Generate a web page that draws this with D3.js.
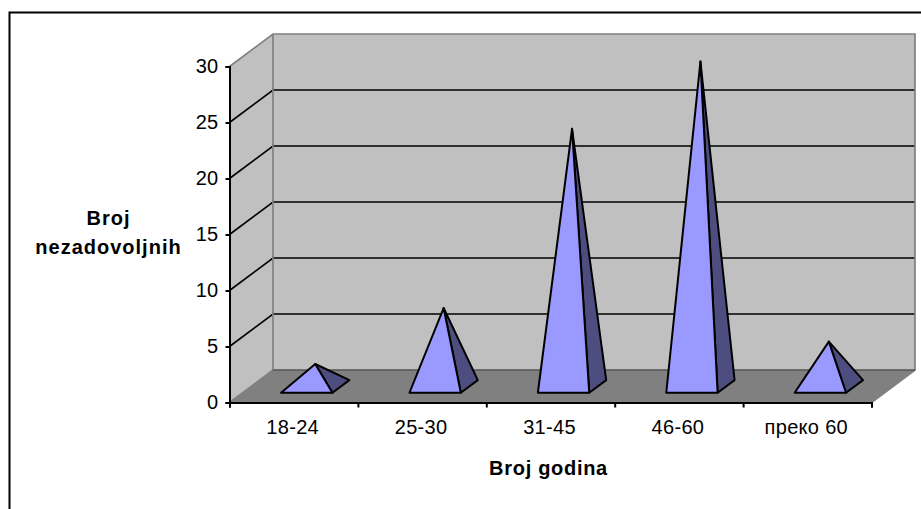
<!DOCTYPE html>
<html>
<head>
<meta charset="utf-8">
<script src="https://cdn.jsdelivr.net/npm/d3@7"></script>
<style>
  html, body { margin: 0; padding: 0; background: #fff; }
  svg { display: block; }
  text { font-family: "Liberation Sans", Arial, sans-serif; fill: #000; }
</style>
</head>
<body>
<svg id="chart" width="921" height="509"></svg>
<script>
// values
const categories = ["18-24", "25-30", "31-45", "46-60", "преко 60"]
const values = [2, 7, 23, 29, 4]
const yTicks = [0, 5, 10, 15, 20, 25, 30]
const xTitle = "Broj godina"
const yTitle = ["Broj", "nezadovoljnih"]

let svg = d3.select("#chart")

let x = d3.scaleBand().domain(categories).range([229.5, 871.5])
let y = d3.scaleLinear().domain([0, 30]).range([402.5, 66.5])

// 3d offset of the back wall
let depthX = 43.5
let depthY = -32.5
let project = (px, py, d) => [px + depthX * d, py + depthY * d]
let path = d3.line().curve(d3.curveLinearClosed)

let frame = svg.append("path")
  .attr("d", "M9.5,509V12.5H921")
  .attr("fill", "none")
  .attr("stroke", "#000")
  .attr("stroke-width", 2)

let x0 = x.range()[0], x1 = x.range()[1]
let y0 = y(0), yTop = y(30)

// side wall
svg.append("path")
  .attr("d", path([[x0, y0], project(x0, y0, 1), project(x0, yTop, 1), [x0, yTop]]))
  .attr("fill", "#c0c0c0")

// back wall
svg.append("path")
  .attr("d", path([project(x0, y0, 1), project(x1, y0, 1), project(x1, yTop, 1), project(x0, yTop, 1)]))
  .attr("fill", "#c0c0c0")

// floor
svg.append("path")
  .attr("d", path([[x0, y0], [x1, y0], project(x1, y0, 1), project(x0, y0, 1)]))
  .attr("fill", "#808080")

// grid lines, they bend at the back corner
svg.append("g").selectAll("path")
  .data(yTicks.filter((d) => d > 0 && d < 30))
  .join("path")
  .attr("d", (d) => d3.line()([[x0, y(d)], project(x0, y(d), 1), project(x1, y(d), 1)]))
  .attr("fill", "none")
  .attr("stroke", "#000")
  .attr("stroke-width", 1.7)

// grey edges of the walls
svg.append("path")
  .attr("d", d3.line()([[x0, yTop], project(x0, yTop, 1), project(x1, yTop, 1), project(x1, y0, 1), [x1, y0]]))
  .attr("fill", "none")
  .attr("stroke", "#808080")
  .attr("stroke-width", 1.7)
svg.append("path")
  .attr("d", d3.line()([project(x0, yTop, 1), project(x0, y0, 1), [x0, y0]]))
  .attr("fill", "none")
  .attr("stroke", "#808080")
  .attr("stroke-width", 1.7)
svg.append("path")
  .attr("d", d3.line()([project(x0, y0, 1), project(x1, y0, 1)]))
  .attr("fill", "none")
  .attr("stroke", "#555")
  .attr("stroke-width", 1.7)

// pyramids
let baseW = x.bandwidth() * 0.4
let depthFront = 0.3
let depthBack = 0.69
let depthMid = (depthFront + depthBack) / 2

let pyramids = svg.append("g").selectAll("g")
  .data(categories.map((c, i) => ({ cat: c, val: values[i] })))
  .join("g")
  .attr("stroke", "#000")
  .attr("stroke-width", 2)
  .attr("stroke-linejoin", "round")

pyramids.append("path")
  .attr("fill", "#4d4d80")
  .attr("d", (d) => {
    let r = x(d.cat) + x.bandwidth() / 2 + baseW / 2
    let m = x(d.cat) + x.bandwidth() / 2
    return path([project(r, y0, depthFront), project(r, y0, depthBack), project(m, y(d.val), depthMid)])
  })

pyramids.append("path")
  .attr("fill", "#9999ff")
  .attr("d", (d) => {
    let l = x(d.cat) + x.bandwidth() / 2 - baseW / 2
    let r = l + baseW
    let m = x(d.cat) + x.bandwidth() / 2
    return path([project(l, y0, depthFront), project(r, y0, depthFront), project(m, y(d.val), depthMid)])
  })

// axes
let yAxis = svg.append("g")
  .attr("transform", "translate(" + x0 + ",0)")
  .call(d3.axisLeft(y).tickValues(yTicks).tickSize(4).tickPadding(7))
yAxis.selectAll("text").attr("font-size", "20px").attr("font-family", null).attr("letter-spacing", "0.3px")
yAxis.selectAll("path, line").attr("stroke", "#000").attr("stroke-width", 2)

let edges = d3.scaleLinear().domain([0, categories.length]).range(x.range())
let xTicks = svg.append("g")
  .attr("transform", "translate(0," + y0 + ")")
  .call(d3.axisBottom(edges).tickValues(d3.range(categories.length + 1)).tickSize(5).tickFormat(""))
xTicks.selectAll("path, line").attr("stroke", "#000").attr("stroke-width", 2)

let xLabels = svg.append("g")
  .attr("transform", "translate(-1," + y0 + ")")
  .call(d3.axisBottom(x).tickSize(0).tickPadding(17))
xLabels.select("path").remove()
xLabels.selectAll("text").attr("font-size", "20px").attr("font-family", null).attr("letter-spacing", "0.3px")

// titles
svg.append("text")
  .attr("x", 548.5)
  .attr("y", 475)
  .attr("text-anchor", "middle")
  .attr("font-size", "20px")
  .attr("font-weight", "bold")
  .attr("letter-spacing", "0.7px")
  .text(xTitle)

svg.append("g").selectAll("text")
  .data(yTitle)
  .join("text")
  .attr("x", 108.5)
  .attr("y", (d, i) => 225 + i * 29)
  .attr("text-anchor", "middle")
  .attr("font-size", "20px")
  .attr("font-weight", "bold")
  .attr("letter-spacing", "1px")
  .text((d) => d)
</script>
</body>
</html>
